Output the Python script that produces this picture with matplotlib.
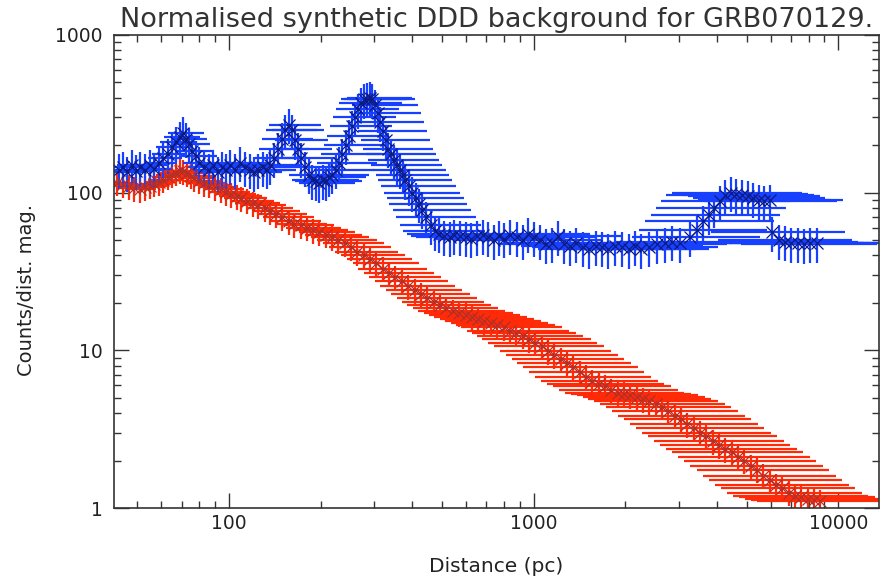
import numpy as np
import matplotlib
matplotlib.use('Agg')
import matplotlib.pyplot as plt
from matplotlib.ticker import FixedLocator, FixedFormatter, LogLocator, NullFormatter

# synthetic background for the GRB field (blue) and normalised model (red)
blue_d = [43.5, 45, 46.5, 48, 49.5, 51, 53, 55, 57, 59, 61, 63, 65, 67, 69, 71,
          72.5, 74, 76, 78, 80, 83, 86, 89, 92, 95, 98, 101, 105, 109, 113, 117,
          121, 125, 129, 133, 137, 141, 145, 149, 153, 157, 161, 165, 169, 173,
          178, 183, 188, 193, 198, 203, 208, 213, 218, 224, 230, 236, 242, 248,
          254, 260, 266, 272, 278, 284, 290, 296, 302, 308, 314, 320, 327, 334,
          341, 348, 356, 364, 372, 380, 390, 400, 410, 420, 432, 445, 460, 475,
          490, 510, 530, 550, 575, 600, 625, 650, 680, 710, 740, 770, 800, 840,
          880, 920, 960, 1000, 1050, 1100, 1150, 1200, 1260, 1320, 1380, 1450,
          1520, 1600, 1680, 1760, 1850, 1950, 2050, 2150, 2250, 2400, 2550, 2700,
          2850, 3030, 3250, 3430, 3600, 3760, 3920, 4080, 4260, 4440, 4630, 4830,
          5040, 5250, 5480, 5720, 5980, 6070, 6400, 6700, 7000, 7350, 7700, 8100,
          8500]
blue_c = [140, 145, 135, 150, 138, 145, 140, 150, 142, 155, 165, 175, 195, 210, 225, 240,
          220, 205, 185, 170, 155, 145, 140, 150, 135, 145, 140, 150, 140, 155, 145, 140,
          135, 140, 145, 140, 150, 165, 190, 220, 250, 270, 250, 215, 190, 165,
          145, 130, 120, 118, 115, 120, 118, 125, 130, 140, 155, 175, 200, 230,
          265, 300, 340, 370, 390, 395, 400, 390, 360, 320, 280, 245, 215, 190,
          175, 160, 150, 140, 130, 120, 110, 100, 92, 85, 78, 70, 62, 57,
          55, 53, 52, 54, 53, 52, 51, 53, 54, 52, 50, 53, 51, 54,
          52, 50, 55, 52, 50, 47, 48, 53, 47, 46, 48, 45,
          44, 46, 45, 44, 46, 45, 44, 46, 44, 45, 47, 48,
          49, 48, 52, 58, 66, 72, 80, 88, 96, 100, 98, 96,
          95, 92, 90, 88, 90, 56, 50, 49, 48, 48, 47, 48,
          48]

red_d = [43, 45, 47, 49, 51, 53, 55, 57, 59, 61, 63, 65, 67, 69, 71, 73, 75, 77,
         80, 83, 86, 90, 94, 98, 102, 106, 110, 115, 120, 125, 131, 137, 143, 150,
         157, 164, 172, 180, 189, 198, 208, 218, 229, 240, 252, 264, 277, 291, 305,
         320, 336, 352, 370, 388, 407, 427, 448, 470, 493, 517, 543, 570, 598, 627,
         658, 690, 724, 760, 797, 836, 877, 920, 965, 1012, 1062, 1114, 1169, 1226,
         1286, 1349, 1415, 1485, 1558, 1634, 1714, 1798, 1886, 1979, 2076, 2178,
         2284, 2396, 2514, 2637, 2766, 2902, 3044, 3193, 3350, 3514, 3686, 3867,
         4056, 4255, 4464, 4683, 4912, 5153, 5406, 5671, 5949, 6240, 6546, 6867,
         7204, 7557, 7927, 8316, 8724]
red_c = [116, 113, 110, 107, 105, 108, 111, 114, 117, 121, 126, 130, 134, 138, 137, 133, 128, 124,
         119, 115, 112, 108, 105, 101, 98, 95, 92, 89, 86, 83, 80, 76, 73, 70,
         66, 63, 62, 60, 58, 56, 54, 52, 50, 48, 45, 42, 40, 38, 36,
         33, 31, 29, 27.5, 25.5, 24, 22.8, 21.5, 20.2, 19.5, 18.5, 17.8, 17.2, 16.8, 16.3,
         15.8, 15.3, 14.8, 14.4, 14, 13.3, 12.8, 12.4, 11.8, 11.2, 10.6, 9.9, 9.3, 8.8,
         8.3, 7.8, 7.3, 6.8, 6.4, 6.1, 5.9, 5.6, 5.4, 5.3, 5.2, 5.05,
         4.9, 4.75, 4.6, 4.4, 4.1, 3.85, 3.65, 3.4, 3.2, 3.0, 2.85, 2.65,
         2.5, 2.35, 2.25, 2.1, 2.0, 1.85, 1.75, 1.6, 1.5, 1.4, 1.33, 1.25,
         1.2, 1.17, 1.14, 1.12, 1.1]

# fractional distance errors (read at a few distances), skewed to larger d
err_d = [45, 100, 300, 1000, 3000, 9000]
err_lo = [0.10, 0.12, 0.16, 0.30, 0.35, 0.38]
err_hi = [0.12, 0.20, 0.38, 0.60, 0.70, 0.75]
blue_c_err = 0.25
red_c_err = 0.18


def draw(ax, d, c, c_err, bar_col, mark_col):
    d = np.array(d, dtype=float)
    c = np.array(c, dtype=float)
    lo = np.interp(np.log10(d), np.log10(err_d), err_lo) * d
    hi = np.interp(np.log10(d), np.log10(err_d), err_hi) * d
    ax.errorbar(d, c, xerr=[lo, hi], yerr=c * c_err,
                fmt='x', ms=9, mew=0.9, color=mark_col, ecolor=bar_col,
                elinewidth=1.6, capsize=0)


fig = plt.figure(figsize=(8.9, 5.82), dpi=100)
ax = fig.add_axes([114 / 890, 74 / 582, 765 / 890, 473 / 582])

draw(ax, red_d, red_c, red_c_err, '#ff2a08', '#b0302a')
draw(ax, blue_d, blue_c, blue_c_err, '#1840ff', '#0c1a80')

ax.set_xscale('log')
ax.set_yscale('log')
ax.set_xlim(42, 13600)
ax.set_ylim(1, 1000)

ax.xaxis.set_major_locator(FixedLocator([100, 1000, 10000]))
ax.xaxis.set_major_formatter(FixedFormatter(['100', '1000', '10000']))
ax.yaxis.set_major_locator(FixedLocator([1, 10, 100, 1000]))
ax.yaxis.set_major_formatter(FixedFormatter(['1', '10', '100', '1000']))
ax.xaxis.set_minor_locator(LogLocator(base=10, subs=np.arange(2, 10)))
ax.yaxis.set_minor_locator(LogLocator(base=10, subs=np.arange(2, 10)))
ax.xaxis.set_minor_formatter(NullFormatter())
ax.yaxis.set_minor_formatter(NullFormatter())

ax.tick_params(which='both', direction='in', top=True, right=True,
               width=1.0, color='#333333', labelsize=13.5, labelcolor='#222222')
ax.tick_params(which='major', length=11)
ax.tick_params(which='minor', length=5)
ax.tick_params(axis='x', which='major', pad=4)
ax.tick_params(axis='y', which='major', pad=8)
for s in ax.spines.values():
    s.set_linewidth(1.2)
    s.set_color('#333333')

ax.set_title('Normalised synthetic DDD background for GRB070129.',
             fontsize=19.5, color='#333333', pad=6)
ax.set_xlabel('Distance (pc)', fontsize=14.5, color='#222222')
ax.set_ylabel('Counts/dist. mag.', fontsize=14, color='#222222')
ax.xaxis.set_label_coords(0.5, -0.104)
ax.yaxis.set_label_coords(-0.102, 0.46)

fig.savefig('out.png', dpi=100)
